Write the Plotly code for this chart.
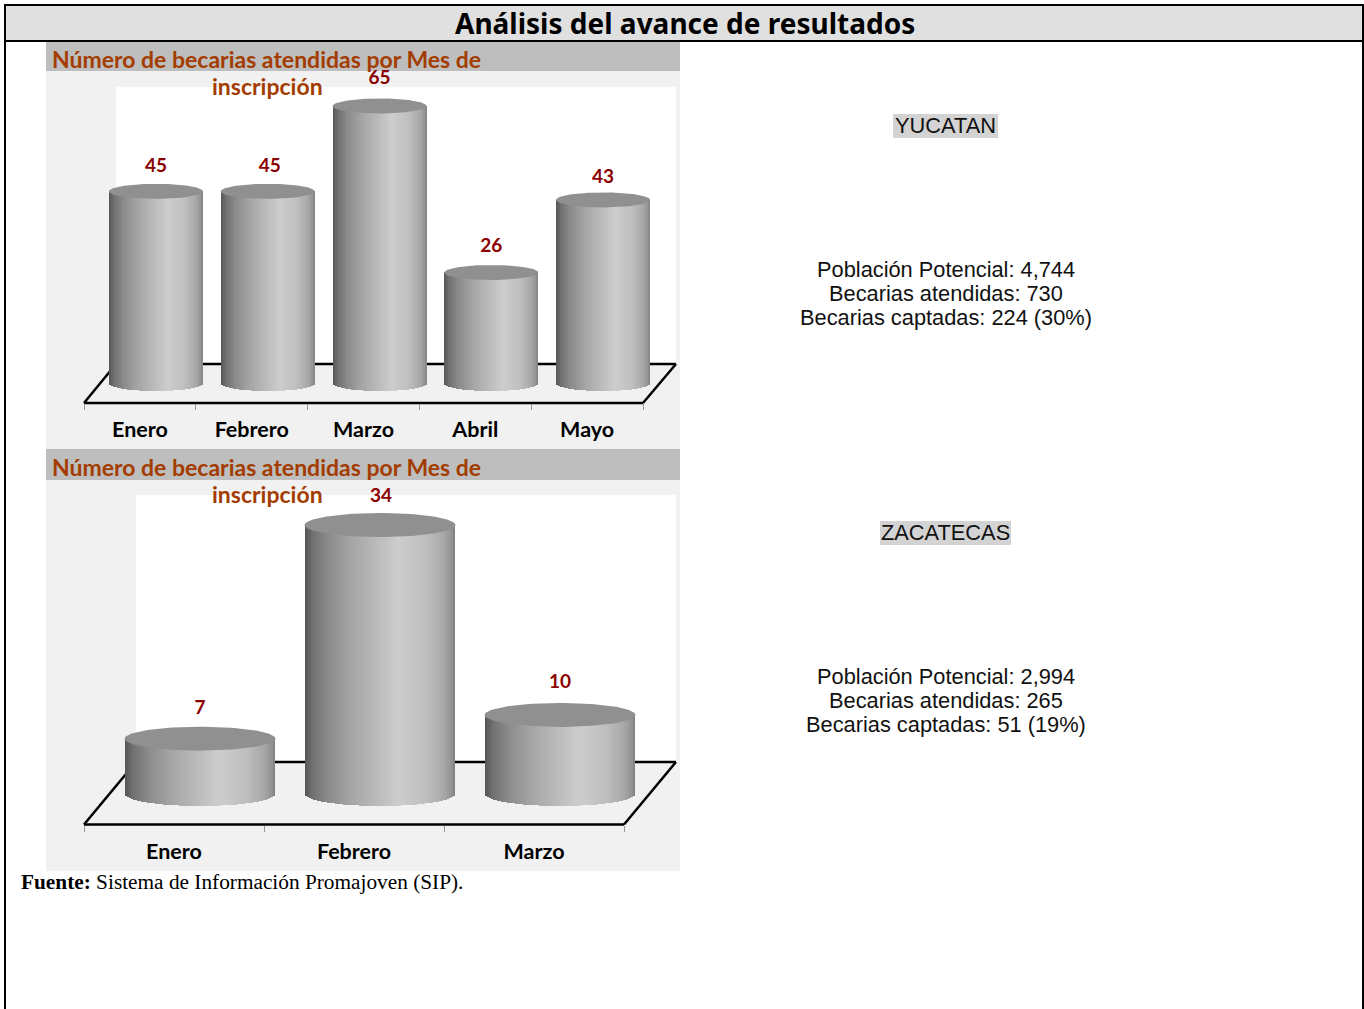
import plotly.graph_objects as go
import numpy as np

# ---------- data ----------
header_title = "Análisis del avance de resultados"
chart_title_1 = "Número de becarias atendidas por Mes de"
chart_title_2 = "inscripción"
months_yucatan = ["Enero", "Febrero", "Marzo", "Abril", "Mayo"]
values_yucatan = [45, 45, 65, 26, 43]
months_zacatecas = ["Enero", "Febrero", "Marzo"]
values_zacatecas = [7, 34, 10]
state_yucatan = "YUCATAN"
lines_yucatan = ["Población Potencial: 4,744", "Becarias atendidas: 730", "Becarias captadas: 224 (30%)"]
state_zacatecas = "ZACATECAS"
lines_zacatecas = ["Población Potencial: 2,994", "Becarias atendidas: 265", "Becarias captadas: 51 (19%)"]
source_bold = "Fuente:"
source_text = "Sistema de Información Promajoven (SIP)."

# ---------- style / layout constants (pixels) ----------
W, H = 1364, 1009
UI_FONT = "Lato"
RUST = "#a33c00"
LABEL_RED = "#8b0000"
GRAD_T = [-1.0, -0.9, -0.7, -0.4, 0.05, 0.25, 0.6, 0.85, 0.97, 1.0]
GRAD_V = [0x55, 0x70, 0x8a, 0xa4, 0xc0, 0xcd, 0xc0, 0xa8, 0x90, 0x78]
CAP = "#909090"


def px(x):
    return x / W


def py(y):
    return 1 - y / H


CHARTS = [
    dict(months=months_yucatan, values=values_yucatan, ax="x", ay="y",
         left=84, right=643, floor_y=403, panel_top=42, wall_top=87, back_y=364, wall_left=116, wall_right=676,
         zero_y=383.5, px_unit=4.27, offset_px=16, half_w=47, ell=7.5,
         gaps=[17, 17, 19, 18, 14], dx=[0, 2, 0, 0, 0], standoff=11),
    dict(months=months_zacatecas, values=values_zacatecas, ax="x2", ay="y2",
         left=84, right=624, floor_y=824.5, panel_top=449, wall_top=495, back_y=762, wall_left=136, wall_right=676,
         zero_y=794, px_unit=7.91, offset_px=26, half_w=75.5, ell=12,
         gaps=[17, 16, 20], dx=[0, 1, 0], standoff=12),
]

fig = go.Figure()
shapes = []
annotations = []


def rect(x0, y0, x1, y1, color):
    shapes.append(dict(type="rect", xref="paper", yref="paper", x0=px(x0), x1=px(x1), y0=py(y0), y1=py(y1),
                       fillcolor=color, line=dict(width=0), layer="below"))


def seg(x0, y0, x1, y1, color="#000000", width=2.5):
    shapes.append(dict(type="line", xref="paper", yref="paper", x0=px(x0), x1=px(x1), y0=py(y0), y1=py(y1),
                       line=dict(color=color, width=width), layer="below"))


def text(x, y, s, size, color="#000000", family=UI_FONT, anchor="center", **kw):
    annotations.append(dict(xref="paper", yref="paper", x=px(x), y=py(y), text=s, showarrow=False,
                            xanchor=anchor, yanchor="middle", font=dict(family=family, size=size, color=color),
                            borderpad=0, **kw))


# page chrome
rect(6, 6, 1363, 40, "#e0e0e0")
seg(5, 5, 1363, 5, width=2)
seg(5, 4, 5, 1009, width=2)
seg(1363, 4, 1363, 1009, width=2)
seg(5, 41, 1363, 41, width=2)
text(685, 23.5, "<b>%s</b>" % header_title, 28, family="Noto Sans")

# panels
rect(46, 42, 680, 449, "#f1f1f1")
rect(46, 42, 680, 71, "#bebebe")
rect(46, 449, 680, 871, "#f1f1f1")
rect(46, 449, 680, 480, "#bebebe")

for c in CHARTS:
    n = len(c["months"])
    unit_x = (c["right"] - c["left"]) / n
    off = c["offset_px"] / unit_x
    hw = c["half_w"] / unit_x
    ell = c["ell"] / c["px_unit"]
    step_px = 2
    k = int(2 * c["half_w"] / step_px)
    ts = (np.arange(k) + 0.5) / k * 2 - 1
    sx, sbase, sh, scol = [], [], [], []
    capx, capy = [], []
    theta = np.linspace(0, 2 * np.pi, 121)
    for i, v in enumerate(c["values"]):
        cx = i + off
        for t in ts:
            low = -ell * np.sqrt(max(0, 1 - t * t))
            g = int(round(np.interp(t, GRAD_T, GRAD_V)))
            sx.append(cx + t * hw)
            sbase.append(low)
            sh.append(v - low)
            scol.append("rgb(%d,%d,%d)" % (g, g, g))
        capx += list(cx + hw * np.cos(theta)) + [None]
        capy += list(v + ell * np.sin(theta)) + [None]
    # wall and floor
    rect(c["wall_left"], c["wall_top"], c["wall_right"], c["back_y"], "#ffffff")
    seg(c["wall_left"], c["back_y"], c["wall_right"], c["back_y"])
    seg(c["left"], c["floor_y"], c["wall_left"], c["back_y"])
    seg(c["right"], c["floor_y"], c["wall_right"], c["back_y"])
    seg(c["left"], c["floor_y"], c["right"], c["floor_y"])

    fig.add_trace(go.Bar(x=sx, y=sh, base=sbase, width=step_px / unit_x, marker=dict(color=scol, line=dict(width=0)),
                         xaxis=c["ax"], yaxis=c["ay"], cliponaxis=False, hoverinfo="skip", showlegend=False))
    fig.add_trace(go.Scatter(x=capx, y=capy, mode="lines", fill="toself", fillcolor=CAP, line=dict(width=0, color=CAP),
                             xaxis=c["ax"], yaxis=c["ay"], cliponaxis=False, hoverinfo="skip", showlegend=False))
    fig.add_trace(go.Scatter(
        x=[i + off + d / unit_x for i, d in enumerate(c["dx"])],
        y=[v + (c["ell"] + g) / c["px_unit"] for v, g in zip(c["values"], c["gaps"])],
        text=[str(v) for v in c["values"]], mode="text", textposition="middle center",
        textfont=dict(family=UI_FONT, size=19, color=LABEL_RED, weight="bold"),
        xaxis=c["ax"], yaxis=c["ay"], cliponaxis=False, hoverinfo="skip", showlegend=False))

    xname = "xaxis" if c["ax"] == "x" else "xaxis2"
    yname = "yaxis" if c["ay"] == "y" else "yaxis2"
    fig.update_layout({
        xname: dict(domain=[px(c["left"]), px(c["wall_right"])],
                    range=[-0.5, -0.5 + (c["wall_right"] - c["left"]) / unit_x], anchor=c["ay"],
                    tickmode="array", tickvals=list(range(n)), ticktext=c["months"], ticks="", ticklen=0,
                    ticklabelstandoff=c["standoff"], tickangle=0,
                    tickfont=dict(family=UI_FONT, size=21.5, color="#000000", weight="bold"),
                    showgrid=False, zeroline=False, showline=False,
                    minor=dict(tickmode="array", tickvals=[i - 0.5 for i in range(n + 1)], ticks="outside", ticklen=6,
                               tickwidth=1, tickcolor="#999999", showgrid=False)),
        yname: dict(domain=[py(c["floor_y"]), py(c["panel_top"])],
                    range=[(c["zero_y"] - c["floor_y"]) / c["px_unit"], (c["zero_y"] - c["panel_top"]) / c["px_unit"]],
                    anchor=c["ax"], visible=False),
    })

# chart titles
for y1, y2 in [(59.5, 86.5), (466.5, 493.5)]:
    text(266.5, y1, "<b>%s</b>" % chart_title_1, 23, RUST)
    text(267, y2, "<b>%s</b>" % chart_title_2, 23, RUST)

# right-hand text blocks
ARIAL = "Liberation Sans"
rect(893, 114, 998, 138, "#d3d3d3")
rect(880, 521, 1011, 545, "#d3d3d3")
text(945.5, 125.5, state_yucatan, 21.8, "#111111", ARIAL)
for yy, s in zip([269.5, 293.5, 317.5], lines_yucatan):
    text(945.5, yy, s, 21.8, "#111111", ARIAL)
text(945.5, 532.5, state_zacatecas, 21.8, "#111111", ARIAL)
for yy, s in zip([676.5, 700.5, 724.5], lines_zacatecas):
    text(945.5, yy, s, 21.8, "#111111", ARIAL)

# source
text(20, 882, "<b>%s</b> %s" % (source_bold, source_text), 21.3, "#000000", "Liberation Serif", anchor="left")

fig.update_layout(width=W, height=H, autosize=False, margin=dict(l=0, r=0, t=0, b=0, pad=0),
                  paper_bgcolor="#ffffff", plot_bgcolor="rgba(0,0,0,0)", barmode="overlay", bargap=0,
                  showlegend=False, shapes=shapes, annotations=annotations)

fig.write_html("out.html", config=dict(displayModeBar=False),
               post_script="document.body.style.margin='0';document.documentElement.style.overflow='hidden';")
